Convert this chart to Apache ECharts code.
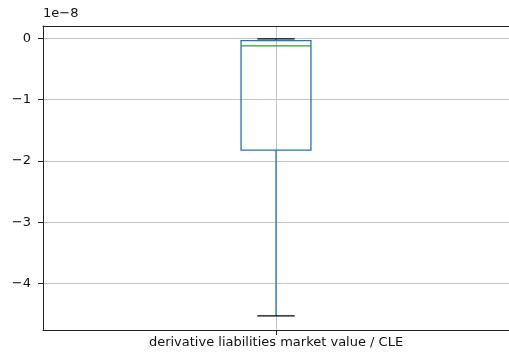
<!DOCTYPE html>
<html>
<head>
<meta charset="utf-8">
<script src="https://cdn.jsdelivr.net/npm/echarts@6/dist/echarts.min.js"></script>
<style>html,body{margin:0;padding:0;background:#fff;}#c{width:509px;height:358px;}</style>
</head>
<body>
<div id="c"></div>
<script>
// Data (values in units of 1e-8)
const categories = ['derivative liabilities market value / CLE'];
const whiskerLow = [-4.53];
const q1 = [-1.825];
const median = [-0.123];
const q3 = [-0.04];
const whiskerHigh = [-0.01];
const yTicks = [-4, -3, -2, -1, 0];
const offsetLabel = '1e\u22128';

const chart = echarts.init(document.getElementById('c'));
const boxData = categories.map((c, i) => [i + 1, whiskerLow[i], q1[i], median[i], q3[i], whiskerHigh[i]]);
const FONT = 'DejaVu Sans';
const BLUE = '#1f77b4', GREEN = '#2ca02c', BLACK = '#000';
const fmt = v => (v < 0 ? '\u2212' + Math.abs(v) : String(v));
const GRIDC = '#c4c4c4';

chart.setOption({
  animation: false,
  backgroundColor: '#fff',
  grid: { left: 43, top: 26, width: 468, height: 304, show: false, containLabel: false },
  graphic: [{ type: 'text', left: 43, top: 7, style: { text: offsetLabel, font: '13px "' + FONT + '"', fill: '#111' } }],
  xAxis: [{
    type: 'value', min: 0, max: 2, interval: 1,
    axisLine: { show: true, onZero: false, lineStyle: { color: '#222', width: 1 } },
    axisTick: { show: true, length: 5, customValues: [1], lineStyle: { color: '#222' } },
    axisLabel: { customValues: [1], margin: 6, color: '#111', fontSize: 13, fontFamily: FONT,
      formatter: v => (categories[Math.round(v) - 1] || '') },
    splitLine: { show: true, lineStyle: { color: GRIDC, width: 1 } }
  }, {
    type: 'value', position: 'top', min: 0, max: 2, interval: 1,
    axisLine: { show: true, onZero: false, lineStyle: { color: '#222', width: 1 } },
    axisTick: { show: false }, axisLabel: { show: false }, splitLine: { show: false }
  }],
  yAxis: {
    type: 'value', min: -4.76, max: 0.2, splitNumber: 5,
    axisLine: { show: true, lineStyle: { color: '#222', width: 1 } },
    axisTick: { show: true, length: 5, customValues: yTicks, lineStyle: { color: '#222' } },
    axisLabel: { customValues: yTicks, margin: 12, color: '#111', fontSize: 13, fontFamily: FONT, formatter: fmt },
    splitLine: { show: true, lineStyle: { color: GRIDC, width: 1 } }
  },
  series: [{
    type: 'custom',
    xAxisIndex: 0,
    data: boxData,
    encode: { x: 0, y: [1, 2, 3, 4, 5] },
    renderItem: function (params, api) {
      const x = api.value(0);
      const boxHalf = 0.15, capHalf = 0.08;
      const p = (xx, yy) => api.coord([xx, yy]);
      const lo = api.value(1), a = api.value(2), m = api.value(3), b = api.value(4), hi = api.value(5);
      const tl = p(x - boxHalf, b), br = p(x + boxHalf, a);
      const line = (p1, p2, color) => ({ type: 'line', shape: { x1: p1[0], y1: p1[1], x2: p2[0], y2: p2[1] }, style: { stroke: color, lineWidth: 1.3 } });
      return { type: 'group', children: [
        line(p(x, lo), p(x, a), BLUE),
        line(p(x, b), p(x, hi), BLUE),
        { type: 'rect', shape: { x: tl[0], y: tl[1], width: br[0] - tl[0], height: br[1] - tl[1] }, style: { fill: 'none', stroke: BLUE, lineWidth: 1.3 } },
        line(p(x - boxHalf, m), p(x + boxHalf, m), GREEN),
        line(p(x - capHalf, lo), p(x + capHalf, lo), BLACK),
        line(p(x - capHalf, hi), p(x + capHalf, hi), BLACK)
      ] };
    }
  }]
});
</script>
</body>
</html>
